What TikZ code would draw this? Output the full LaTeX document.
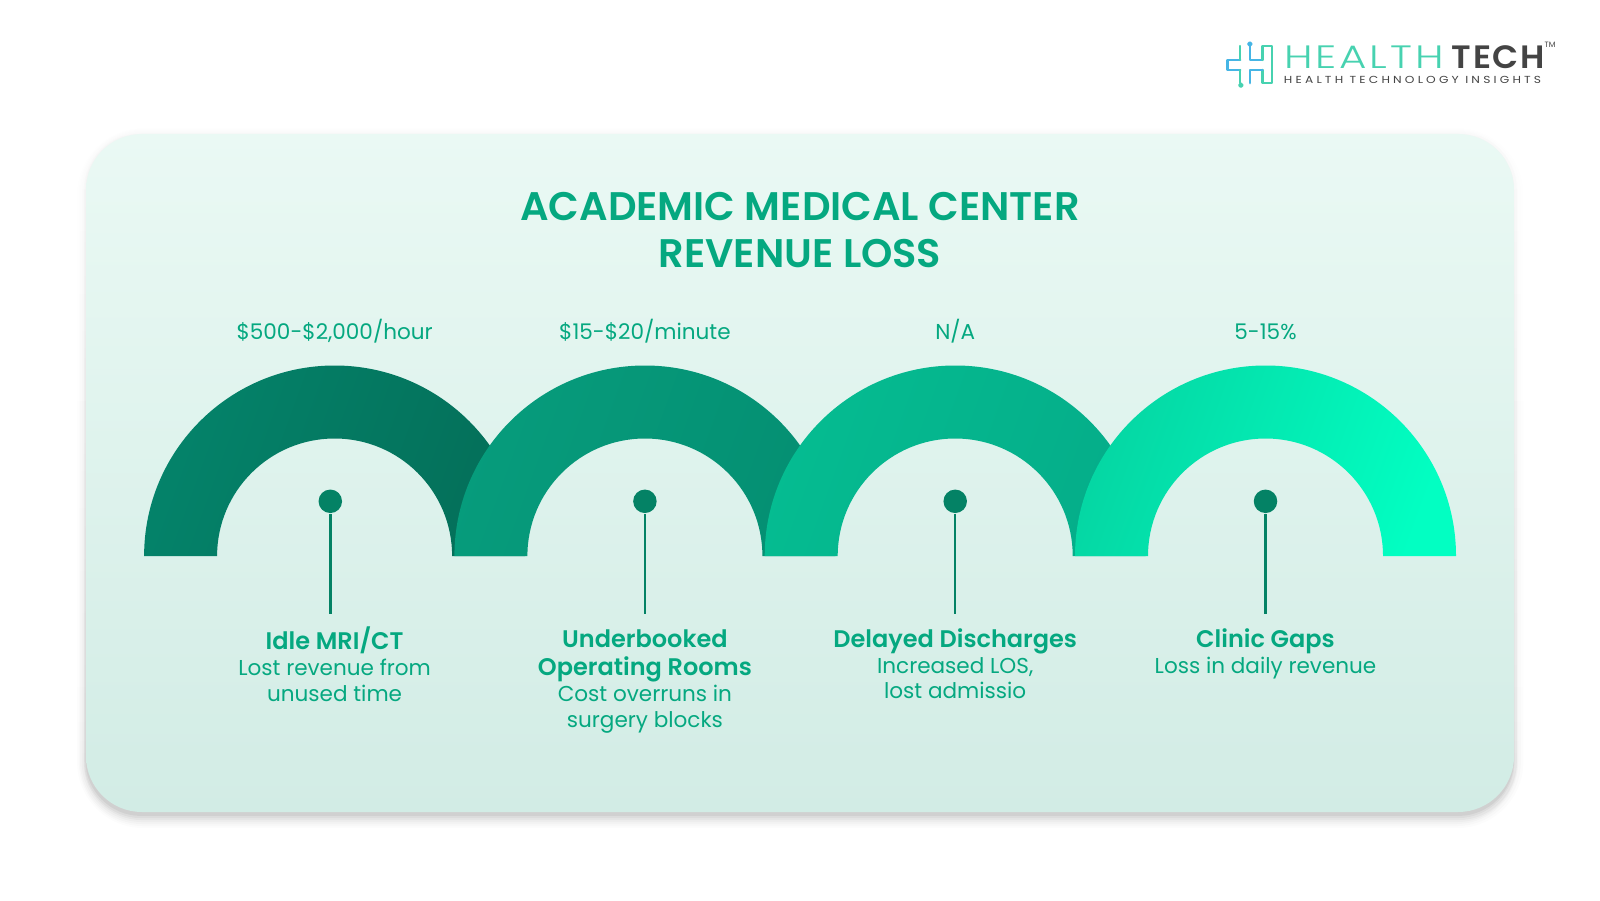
\documentclass[tikz,border=0pt]{standalone}
\usepackage{fontspec}
\setmainfont{Poppins}
\newfontfamily\titlefont{Poppins SemiBold}
\newfontfamily\logofont[LetterSpace=7]{Poppins Light}
\newfontfamily\logobold[LetterSpace=5]{Poppins SemiBold}
\newfontfamily\logosub[LetterSpace=26]{Poppins}
\usetikzlibrary{positioning,fadings}
\definecolor{cardtop}{HTML}{EAF9F4}
\definecolor{cardbot}{HTML}{D2ECE5}
\definecolor{titlegreen}{HTML}{05A880}
\definecolor{stemgreen}{HTML}{048265}
\definecolor{logomint}{HTML}{47D2B0}
\definecolor{logoblue}{HTML}{46B5E5}
\definecolor{logodark}{HTML}{444444}
\definecolor{archAl}{HTML}{04836A}
\definecolor{archAr}{HTML}{046F59}
\definecolor{archBl}{HTML}{069C7C}
\definecolor{archBr}{HTML}{058F72}
\definecolor{archCl}{HTML}{05BC91}
\definecolor{archCr}{HTML}{05AD89}
\definecolor{archDl}{HTML}{05D6A3}
\definecolor{archDr}{HTML}{02FFC2}
\tikzfading[name=shadowfade,top color=transparent!82,bottom color=transparent!0]
\tikzset{
  cardtitle/.style={anchor=base,text=titlegreen,inner sep=0pt,font=\titlefont\fontsize{11.35}{14}\selectfont},
  valuetext/.style={anchor=base,text=titlegreen,inner sep=0pt,font=\fontsize{6.13}{7}\selectfont},
  headtext/.style={anchor=base,text=titlegreen,inner sep=0pt,font=\titlefont\fontsize{6.83}{8}\selectfont},
  bodytext/.style={anchor=base,text=titlegreen,inner sep=0pt,font=\fontsize{6.13}{7}\selectfont},
  pindot/.style={circle,fill=stemgreen,inner sep=0pt,minimum size=0.235cm},
  pinstem/.style={draw=stemgreen,line width=0.025cm},
  logoline/.style={line width=0.022cm,line cap=round,line join=round},
  cardshadow/.style={fill=black,opacity=#1,path fading=shadowfade},
}
\newcommand{\archpath}[1]{([shift={(-1.905,0)}]#1) arc[start angle=180,end angle=0,radius=1.905]
  -- ([shift={(1.175,0)}]#1) arc[start angle=0,end angle=180,radius=1.175] -- cycle}
\begin{document}
\begin{tikzpicture}
\useasboundingbox (0,0) rectangle (16,9);
\fill[white] (0,0) rectangle (16,9);

% card with soft shadow
\path[cardshadow=0.012,rounded corners=0.66cm] (0.77,0.72) rectangle (15.23,7.72);
\path[cardshadow=0.016,rounded corners=0.64cm] (0.79,0.74) rectangle (15.21,7.71);
\path[cardshadow=0.02,rounded corners=0.62cm] (0.805,0.76) rectangle (15.195,7.70);
\path[cardshadow=0.025,rounded corners=0.60cm] (0.82,0.78) rectangle (15.18,7.69);
\path[cardshadow=0.03,rounded corners=0.58cm] (0.835,0.80) rectangle (15.165,7.68);
\path[cardshadow=0.04,rounded corners=0.57cm] (0.845,0.82) rectangle (15.155,7.67);
\path[cardshadow=0.05,rounded corners=0.56cm] (0.855,0.84) rectangle (15.145,7.66);
\shade[top color=cardtop,bottom color=cardbot,rounded corners=0.56cm] (0.86,0.88) rectangle (15.14,7.66);

% title
\node[cardtitle] (T1) at (8,6.796) {ACADEMIC MEDICAL CENTER};
\node[cardtitle] (T2) at (8,6.327) {REVENUE LOSS};

% centres of the arches
\coordinate (A1) at (3.346,3.44);
\coordinate (A2) at ([shift={+(3.103,0)}]A1);
\coordinate (A3) at ([shift={+(3.103,0)}]A2);
\coordinate (A4) at ([shift={+(3.103,0)}]A3);

\shade[left color=archAl,right color=archAr,shading angle=70] \archpath{A1};
\shade[left color=archBl,right color=archBr,shading angle=70] \archpath{A2};
\shade[left color=archCl,right color=archCr,shading angle=70] \archpath{A3};
\shade[left color=archDl,right color=archDr,shading angle=70] \archpath{A4};

% values above
\node[valuetext] (V1) at ([shift={+(0,2.17)}]A1) {\$500-\$2,000/hour};
\node[valuetext] (V2) at ([shift={+(0,2.17)}]A2) {\$15-\$20/minute};
\node[valuetext] (V3) at ([shift={+(0,2.17)}]A3) {N/A};
\node[valuetext] (V4) at ([shift={+(0,2.17)}]A4) {5-15\%};

% pins
\node[pindot] (D1) at ([shift={+(-0.043,0.547)}]A1) {};
\node[pindot] (D2) at ([shift={+(0,0.547)}]A2) {};
\node[pindot] (D3) at ([shift={+(0,0.547)}]A3) {};
\node[pindot] (D4) at ([shift={+(0,0.547)}]A4) {};
\coordinate (E1) at ([shift={+(-0.043,-0.58)}]A1);
\coordinate (E2) at ([shift={+(0,-0.58)}]A2);
\coordinate (E3) at ([shift={+(0,-0.58)}]A3);
\coordinate (E4) at ([shift={+(0,-0.58)}]A4);
\draw[pinstem] (D1)--(E1);
\draw[pinstem] (D2)--(E2);
\draw[pinstem] (D3)--(E3);
\draw[pinstem] (D4)--(E4);

% labels below
\node[headtext] (H1) at ([shift={+(0,-0.933)}]A1) {Idle MRI/CT};
\node[bodytext] (B11) at ([shift={+(0,-1.19)}]A1) {Lost revenue from};
\node[bodytext] (B12) at ([shift={+(0,-1.45)}]A1) {unused time};

\node[headtext] (H21) at ([shift={+(0,-0.917)}]A2) {Underbooked};
\node[headtext] (H22) at ([shift={+(0,-1.195)}]A2) {Operating Rooms};
\node[bodytext] (B21) at ([shift={+(0,-1.457)}]A2) {Cost overruns in};
\node[bodytext] (B22) at ([shift={+(0,-1.717)}]A2) {surgery blocks};

\node[headtext] (H3) at ([shift={+(0,-0.917)}]A3) {Delayed Discharges};
\node[bodytext] (B31) at ([shift={+(0,-1.175)}]A3) {Increased LOS,};
\node[bodytext] (B32) at ([shift={+(0,-1.42)}]A3) {lost admissio};

\node[headtext] (H4) at ([shift={+(0,-0.917)}]A4) {Clinic Gaps};
\node[bodytext] (B41) at ([shift={+(0,-1.175)}]A4) {Loss in daily revenue};

% logo
\begin{scope}[shift={(11.81,8.8)},x=0.00333cm,y=-0.00333cm]
\draw[logoline,logoblue] (178,120)--(140,120)--(140,150)--(178,150);
\draw[logoline,logomint] (178,120)--(178,78);
\draw[logoline,logomint] (178,150)--(178,190);
\draw[logoline,logoblue] (207,78)--(207,120)--(245,120);
\draw[logoline,logomint] (245,120)--(245,78)--(273,78)--(273,190)--(245,190)--(245,150);
\draw[logoline,logoblue] (245,150)--(207,150)--(207,190);
\draw[logoline,logoblue,fill=white] (207,72) circle (5);
\draw[logoline,logomint,fill=white] (180,196) circle (5);
\node[anchor=base west,inner sep=0pt,xscale=1.3,text=logomint,font=\logofont\fontsize{9.2}{10}\selectfont] (L1) at (307,147) {HEALTH};
\node[anchor=base west,inner sep=0pt,xscale=1.05,text=logodark,font=\logobold\fontsize{9.2}{10}\selectfont] (L2) at (812,147) {TECH};
\node[anchor=base west,inner sep=0pt,text=logodark,font=\fontsize{2.2}{3}\selectfont] (L3) at (1091,84) {TM};
\node[anchor=base west,inner sep=0pt,xscale=1.2,text=logodark,font=\logosub\fontsize{2.9}{4}\selectfont] (L4) at (307,192) {HEALTH TECHNOLOGY INSIGHTS};
\end{scope}
\end{tikzpicture}
\end{document}
